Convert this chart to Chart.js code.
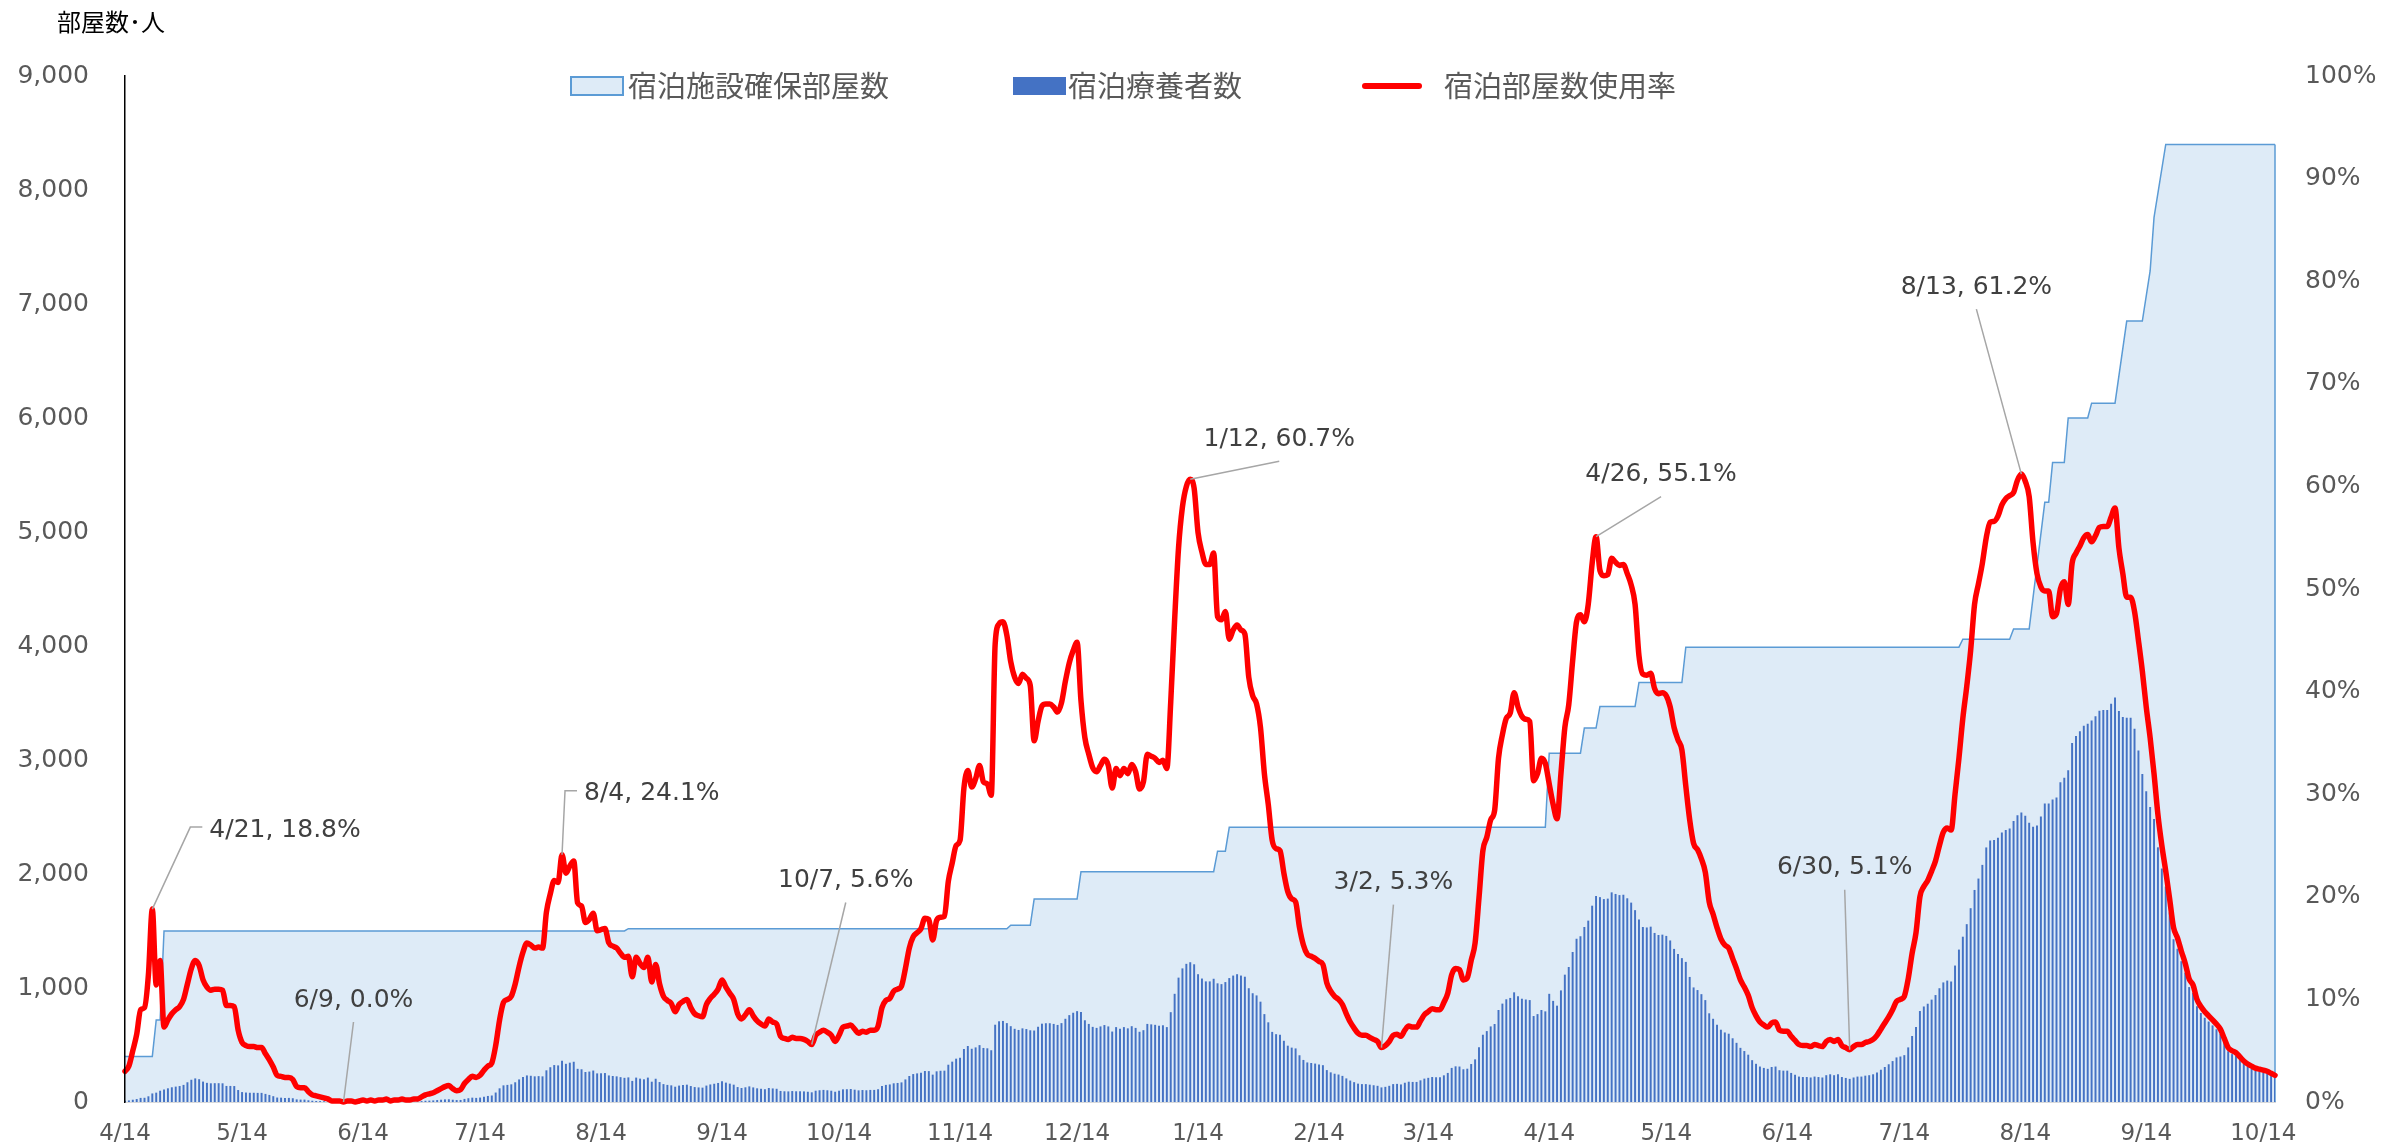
<!DOCTYPE html>
<html lang="ja">
<head>
<meta charset="utf-8">
<title>宿泊療養施設 使用状況</title>
<script src="https://cdn.jsdelivr.net/npm/chart.js@4.4.1/dist/chart.umd.min.js"></script>
<style>
  html, body { margin: 0; padding: 0; background: #fff; }
  #wrap { position: relative; width: 2386px; height: 1145px; }
</style>
</head>
<body>
<div id="wrap"><canvas id="chart"></canvas></div>
<script>
const START_DATE = "2020-04-14";
const DAY_COUNT = 552;

const TICK_DATES = [
  "2020-04-14", "2020-05-14", "2020-06-14", "2020-07-14", "2020-08-14", "2020-09-14",
  "2020-10-14", "2020-11-14", "2020-12-14", "2021-01-14", "2021-02-14", "2021-03-14",
  "2021-04-14", "2021-05-14", "2021-06-14", "2021-07-14", "2021-08-14", "2021-09-14",
  "2021-10-14"
];

// 宿泊施設確保部屋数 (change points only, the line joins them)
const ROOM_DATES = [
  "2020-04-14", "2020-04-21", "2020-04-22", "2020-04-23", "2020-04-24", "2020-08-20",
  "2020-08-21", "2020-11-26", "2020-11-27", "2020-12-02", "2020-12-03", "2020-12-14",
  "2020-12-15", "2021-01-18", "2021-01-19", "2021-01-21", "2021-01-22", "2021-04-13",
  "2021-04-14", "2021-04-22", "2021-04-23", "2021-04-26", "2021-04-27", "2021-05-06",
  "2021-05-07", "2021-05-18", "2021-05-19", "2021-07-28", "2021-07-29", "2021-08-10",
  "2021-08-11", "2021-08-15", "2021-08-19", "2021-08-20", "2021-08-21", "2021-08-24",
  "2021-08-25", "2021-08-30", "2021-08-31", "2021-09-06", "2021-09-09", "2021-09-13",
  "2021-09-15", "2021-09-16", "2021-09-19", "2021-10-17"
];
const ROOMS = [
  400, 400, 720, 720, 1500, 1500, 1520, 1520, 1550, 1550,
  1780, 1780, 2020, 2020, 2200, 2200, 2410, 2410, 3060, 3060,
  3280, 3280, 3470, 3470, 3680, 3680, 3990, 3990, 4060, 4060,
  4150, 4150, 5260, 5260, 5610, 5610, 6000, 6000, 6130, 6130,
  6850, 6850, 7290, 7760, 8400, 8400
];

// 宿泊療養者数, daily from 2020-04-14
const PATIENTS = [
  12, 14, 20, 26, 36, 37, 50, 75, 82, 99,
  110, 120, 129, 135, 140, 150, 173, 195, 207, 200,
  179, 168, 164, 165, 165, 164, 141, 141, 140, 105,
  87, 83, 81, 81, 80, 80, 71, 62, 51, 39,
  38, 36, 36, 33, 23, 21, 21, 15, 11, 9,
  8, 6, 5, 2, 2, 2, 0, 2, 2, 0,
  2, 3, 2, 3, 2, 3, 3, 5, 2, 3,
  3, 5, 3, 3, 5, 5, 8, 11, 12, 14,
  17, 20, 23, 24, 20, 17, 18, 27, 33, 38,
  36, 39, 47, 53, 57, 83, 120, 146, 150, 155,
  173, 198, 219, 233, 230, 225, 227, 225, 278, 305,
  324, 321, 362, 335, 345, 353, 291, 287, 263, 267,
  276, 251, 252, 254, 233, 228, 225, 218, 212, 216,
  185, 214, 205, 199, 214, 178, 204, 175, 157, 150,
  146, 134, 144, 149, 152, 140, 131, 128, 126, 144,
  154, 160, 167, 181, 170, 161, 152, 131, 123, 129,
  137, 128, 120, 116, 112, 123, 119, 116, 97, 94,
  93, 96, 94, 94, 93, 90, 85, 99, 103, 106,
  103, 99, 90, 99, 111, 112, 114, 108, 102, 105,
  103, 106, 106, 112, 140, 150, 154, 164, 167, 172,
  198, 228, 245, 251, 257, 272, 271, 240, 269, 274,
  275, 327, 354, 380, 388, 465, 491, 467, 479, 499,
  474, 471, 454, 678, 708, 711, 692, 665, 642, 632,
  646, 640, 629, 627, 660, 687, 691, 691, 685, 676,
  692, 730, 762, 783, 797, 790, 717, 685, 659, 650,
  663, 675, 663, 618, 657, 642, 657, 646, 665, 650,
  616, 630, 685, 681, 677, 669, 673, 657, 788, 949,
  1091, 1172, 1212, 1226, 1208, 1121, 1083, 1058, 1058, 1081,
  1041, 1034, 1052, 1087, 1109, 1121, 1109, 1099, 998, 954,
  935, 880, 771, 699, 615, 595, 590, 537, 494, 477,
  470, 410, 369, 347, 342, 337, 330, 323, 280, 260,
  248, 241, 229, 207, 188, 174, 161, 157, 157, 152,
  147, 142, 128, 133, 142, 157, 159, 154, 169, 178,
  176, 176, 190, 205, 212, 219, 217, 217, 234, 255,
  299, 313, 311, 287, 292, 333, 374, 480, 590, 622,
  663, 684, 807, 863, 901, 913, 962, 928, 906, 899,
  894, 754, 771, 807, 795, 949, 887, 845, 979, 1117,
  1184, 1316, 1432, 1454, 1535, 1591, 1722, 1807, 1797, 1780,
  1784, 1839, 1825, 1815, 1818, 1787, 1749, 1683, 1601, 1535,
  1531, 1538, 1483, 1465, 1468, 1457, 1417, 1343, 1299, 1262,
  1229, 1097, 1005, 982, 946, 894, 778, 730, 678, 634,
  610, 599, 559, 519, 475, 447, 415, 367, 335, 311,
  299, 291, 307, 311, 279, 275, 275, 255, 239, 223,
  219, 219, 215, 223, 219, 215, 235, 243, 235, 243,
  219, 211, 203, 215, 223, 223, 231, 235, 243, 259,
  283, 307, 331, 359, 391, 399, 411, 479, 579, 658,
  798, 838, 862, 898, 938, 998, 1049, 1065, 1057, 1197,
  1337, 1450, 1560, 1700, 1860, 1960, 2080, 2233, 2294, 2298,
  2318, 2363, 2387, 2399, 2465, 2515, 2540, 2511, 2449, 2414,
  2426, 2505, 2619, 2619, 2654, 2670, 2805, 2844, 2910, 3150,
  3210, 3252, 3300, 3318, 3347, 3384, 3433, 3439, 3439, 3494,
  3549, 3429, 3378, 3370, 3370, 3274, 3083, 2877, 2726, 2588,
  2483, 2234, 2048, 1890, 1663, 1428, 1344, 1235, 1134, 1008,
  958, 840, 781, 739, 706, 672, 638, 596, 521, 445,
  420, 403, 370, 336, 311, 294, 277, 269, 260, 252,
  235, 218
];

// 宿泊部屋数使用率 (%), daily from 2020-04-14
const USAGE_RATE = [
  3.0, 3.5, 5.0, 6.6, 9.0, 9.2, 12.4, 18.8, 11.4, 13.8,
  7.3, 8.0, 8.6, 9.0, 9.3, 10.0, 11.5, 13.0, 13.8, 13.3,
  11.9, 11.2, 10.9, 11.0, 11.0, 10.9, 9.4, 9.4, 9.3, 7.0,
  5.8, 5.5, 5.4, 5.4, 5.3, 5.3, 4.7, 4.1, 3.4, 2.6,
  2.5, 2.4, 2.4, 2.2, 1.5, 1.4, 1.4, 1.0, 0.7, 0.6,
  0.5, 0.4, 0.3, 0.1, 0.1, 0.1, 0.0, 0.1, 0.1, 0.0,
  0.1, 0.2, 0.1, 0.2, 0.1, 0.2, 0.2, 0.3, 0.1, 0.2,
  0.2, 0.3, 0.2, 0.2, 0.3, 0.3, 0.5, 0.7, 0.8, 0.9,
  1.1, 1.3, 1.5, 1.6, 1.3, 1.1, 1.2, 1.8, 2.2, 2.5,
  2.4, 2.6, 3.1, 3.5, 3.8, 5.5, 8.0, 9.7, 10.0, 10.3,
  11.5, 13.2, 14.6, 15.5, 15.3, 15.0, 15.1, 15.0, 18.5, 20.3,
  21.6, 21.4, 24.1, 22.3, 23.0, 23.5, 19.4, 19.1, 17.5, 17.8,
  18.4, 16.7, 16.8, 16.9, 15.5, 15.2, 15.0, 14.5, 14.1, 14.2,
  12.2, 14.1, 13.5, 13.1, 14.1, 11.7, 13.4, 11.5, 10.3, 9.9,
  9.6, 8.8, 9.5, 9.8, 10.0, 9.2, 8.6, 8.4, 8.3, 9.5,
  10.1, 10.5, 11.0, 11.9, 11.2, 10.6, 10.0, 8.6, 8.1, 8.5,
  9.0, 8.4, 7.9, 7.6, 7.4, 8.1, 7.8, 7.6, 6.4, 6.2,
  6.1, 6.3, 6.2, 6.2, 6.1, 5.9, 5.6, 6.5, 6.8, 7.0,
  6.8, 6.5, 5.9, 6.5, 7.3, 7.4, 7.5, 7.1, 6.7, 6.9,
  6.8, 7.0, 7.0, 7.4, 9.2, 9.9, 10.1, 10.8, 11.0, 11.3,
  13.0, 15.0, 16.1, 16.5, 16.9, 17.9, 17.8, 15.8, 17.7, 18.0,
  18.1, 21.5, 23.3, 25.0, 25.5, 30.6, 32.3, 30.7, 31.5, 32.8,
  31.2, 31.0, 29.9, 44.6, 46.6, 46.8, 45.5, 42.9, 41.4, 40.8,
  41.7, 41.3, 40.6, 35.2, 37.1, 38.6, 38.8, 38.8, 38.5, 38.0,
  38.9, 41.0, 42.8, 44.0, 44.8, 39.1, 35.5, 33.9, 32.6, 32.2,
  32.8, 33.4, 32.8, 30.6, 32.5, 31.8, 32.5, 32.0, 32.9, 32.2,
  30.5, 31.2, 33.9, 33.7, 33.5, 33.1, 33.3, 32.5, 39.0, 47.0,
  54.0, 58.0, 60.0, 60.7, 59.8, 55.5, 53.6, 52.4, 52.4, 53.5,
  47.3, 47.0, 47.8, 45.1, 46.0, 46.5, 46.0, 45.6, 41.4, 39.6,
  38.8, 36.5, 32.0, 29.0, 25.5, 24.7, 24.5, 22.3, 20.5, 19.8,
  19.5, 17.0, 15.3, 14.4, 14.2, 14.0, 13.7, 13.4, 11.6, 10.8,
  10.3, 10.0, 9.5, 8.6, 7.8, 7.2, 6.7, 6.5, 6.5, 6.3,
  6.1, 5.9, 5.3, 5.5, 5.9, 6.5, 6.6, 6.4, 7.0, 7.4,
  7.3, 7.3, 7.9, 8.5, 8.8, 9.1, 9.0, 9.0, 9.7, 10.6,
  12.4, 13.0, 12.9, 11.9, 12.1, 13.8, 15.5, 19.9, 24.5, 25.8,
  27.5, 28.4, 33.5, 35.8, 37.4, 37.9, 39.9, 38.5, 37.6, 37.3,
  37.1, 31.3, 32.0, 33.5, 33.0, 31.0, 29.0, 27.6, 32.0, 36.5,
  38.7, 43.0, 46.8, 47.5, 46.8, 48.5, 52.5, 55.1, 51.8, 51.3,
  51.4, 53.0, 52.6, 52.3, 52.4, 51.5, 50.4, 48.5, 43.5, 41.7,
  41.6, 41.8, 40.3, 39.8, 39.9, 39.6, 38.5, 36.5, 35.3, 34.3,
  30.8, 27.5, 25.2, 24.6, 23.7, 22.4, 19.5, 18.3, 17.0, 15.9,
  15.3, 15.0, 14.0, 13.0, 11.9, 11.2, 10.4, 9.2, 8.4, 7.8,
  7.5, 7.3, 7.7, 7.8, 7.0, 6.9, 6.9, 6.4, 6.0, 5.6,
  5.5, 5.5, 5.4, 5.6, 5.5, 5.4, 5.9, 6.1, 5.9, 6.1,
  5.5, 5.3, 5.1, 5.4, 5.6, 5.6, 5.8, 5.9, 6.1, 6.5,
  7.1, 7.7, 8.3, 9.0, 9.8, 10.0, 10.3, 12.0, 14.5, 16.5,
  20.0, 21.0, 21.6, 22.5, 23.5, 25.0, 26.3, 26.7, 26.5, 30.0,
  33.5, 37.4, 40.5, 44.0, 48.5, 50.5, 52.5, 55.0, 56.5, 56.6,
  57.1, 58.2, 58.8, 59.1, 59.4, 60.6, 61.2, 60.5, 59.0, 54.5,
  51.5, 50.2, 49.8, 49.8, 47.3, 47.6, 50.0, 50.7, 48.5, 52.5,
  53.5, 54.2, 55.0, 55.3, 54.6, 55.2, 56.0, 56.1, 56.1, 57.0,
  57.9, 54.0, 51.5, 49.2, 49.2, 47.8, 45.0, 42.0, 38.5, 35.5,
  32.0, 28.0, 25.0, 22.5, 19.8, 17.0, 16.0, 14.7, 13.5, 12.0,
  11.4, 10.0, 9.3, 8.8, 8.4, 8.0, 7.6, 7.1, 6.2, 5.3,
  5.0, 4.8, 4.4, 4.0, 3.7, 3.5, 3.3, 3.2, 3.1, 3.0,
  2.8, 2.6
];

const CALLOUT_DATES = [
  "2020-04-21", "2020-06-09", "2020-08-04", "2020-10-07", "2021-01-12",
  "2021-03-02", "2021-04-26", "2021-06-30", "2021-08-13"
];
// leader end offset from the point, px; "side" = elbow with label to the right
const CALLOUT_OFFSETS = [
  { dx: 38, dy: -82, side: true },
  { dx: 10, dy: -80 },
  { dx: 3, dy: -64, side: true },
  { dx: 34, dy: -142 },
  { dx: 89, dy: -18 },
  { dx: 12, dy: -143 },
  { dx: 65, dy: -40 },
  { dx: -5, dy: -160 },
  { dx: -45, dy: -165 }
];

const BLUE_LINE = "#5B9BD5";
const BLUE_FILL = "#DEEBF7";
const BAR_BLUE = "#4472C4";
const RED = "#FF0000";
const NUM_FONT = "DejaVu Sans";
const JP_FONT = "'Noto Sans CJK JP', 'Noto Sans', sans-serif";

function dayLabel(i) {
  const d = new Date(START_DATE + "T00:00:00Z");
  d.setUTCDate(d.getUTCDate() + i);
  return d.toISOString().slice(0, 10);
}
const DATES = Array.from({ length: DAY_COUNT }, (_, i) => dayLabel(i));
const TICK_SET = new Set(TICK_DATES);

function md(iso) {
  const parts = iso.split("-");
  return Number(parts[1]) + "/" + Number(parts[2]);
}

// fixed side boxes; drop the label overhang padding so the plot bottom stays put
function fixWidth(w) {
  return scale => {
    scale.width = w;
    scale.paddingTop = 0;
    scale.paddingBottom = 0;
  };
}

const overlay = {
  id: "overlay",
  afterDatasetDraw(chart, args) {
    // right edge of the capacity area
    if (args.index !== 2) return;
    const pts = args.meta.data;
    const last = pts[pts.length - 1];
    const { ctx } = chart;
    ctx.save();
    ctx.strokeStyle = BLUE_LINE;
    ctx.lineWidth = 1.5;
    ctx.beginPath();
    ctx.moveTo(last.x, last.y);
    ctx.lineTo(last.x, chart.scales.y.getPixelForValue(0));
    ctx.stroke();
    ctx.restore();
  },
  afterDraw(chart) {
    const { ctx } = chart;
    const xs = chart.scales.x;
    const ys = chart.scales.y1;
    ctx.save();

    // axis title
    ctx.fillStyle = "#000";
    ctx.font = "24px " + JP_FONT;
    ctx.textAlign = "left";
    ctx.textBaseline = "middle";
    ctx.fillText("部屋数･人", 57, 22);

    // legend
    const ds = chart.data.datasets;
    const ly = 86;
    ctx.font = "29px " + JP_FONT;

    let x = 571;
    ctx.fillStyle = BLUE_FILL;
    ctx.fillRect(x, ly - 9, 52, 18);
    ctx.strokeStyle = BLUE_LINE;
    ctx.lineWidth = 2;
    ctx.strokeRect(x, ly - 9, 52, 18);
    ctx.fillStyle = "#595959";
    ctx.fillText(ds[2].label, x + 57, ly);

    x = 1013;
    ctx.fillStyle = BAR_BLUE;
    ctx.fillRect(x, ly - 9, 53, 18);
    ctx.fillStyle = "#595959";
    ctx.fillText(ds[1].label, x + 55, ly);

    x = 1365;
    ctx.strokeStyle = RED;
    ctx.lineWidth = 6;
    ctx.lineCap = "round";
    ctx.beginPath();
    ctx.moveTo(x, ly);
    ctx.lineTo(x + 54, ly);
    ctx.stroke();
    ctx.fillText(ds[0].label, x + 79, ly);

    // callouts
    ctx.font = "25px " + NUM_FONT;
    ctx.fillStyle = "#404040";
    ctx.strokeStyle = "#A6A6A6";
    ctx.lineWidth = 1.5;
    ctx.lineCap = "butt";
    CALLOUT_DATES.forEach((iso, k) => {
      const i = DATES.indexOf(iso);
      const v = USAGE_RATE[i];
      const ax = xs.getPixelForValue(i);
      const ay = ys.getPixelForValue(v);
      const o = CALLOUT_OFFSETS[k];
      const ex = ax + o.dx;
      const ey = ay + o.dy;
      const text = md(iso) + ", " + v.toFixed(1) + "%";
      ctx.beginPath();
      ctx.moveTo(ax, ay);
      ctx.lineTo(ex, ey);
      if (o.side) {
        ctx.lineTo(ex + 12, ey);
        ctx.stroke();
        ctx.textAlign = "left";
        ctx.fillText(text, ex + 19, ey + 3);
      } else {
        ctx.stroke();
        ctx.textAlign = "center";
        ctx.fillText(text, ex, ey - 22);
      }
    });
    ctx.restore();
  }
};

new Chart(document.getElementById("chart"), {
  type: "bar",
  data: {
    labels: DATES,
    datasets: [
      {
        type: "line",
        label: "宿泊部屋数使用率",
        data: USAGE_RATE,
        yAxisID: "y1",
        borderColor: RED,
        borderWidth: 5.5,
        pointRadius: 0,
        cubicInterpolationMode: "monotone",
        borderJoinStyle: "round",
        borderCapStyle: "round",
        clip: false,
        order: 0
      },
      {
        type: "bar",
        label: "宿泊療養者数",
        data: PATIENTS,
        yAxisID: "y",
        backgroundColor: BAR_BLUE,
        barPercentage: 0.5,
        categoryPercentage: 1,
        order: 1
      },
      {
        type: "line",
        label: "宿泊施設確保部屋数",
        data: ROOM_DATES.map((d, i) => ({ x: d, y: ROOMS[i] })),
        yAxisID: "y",
        borderColor: BLUE_LINE,
        borderWidth: 1.5,
        backgroundColor: BLUE_FILL,
        fill: "origin",
        pointRadius: 0,
        tension: 0,
        order: 2
      }
    ]
  },
  options: {
    responsive: true,
    maintainAspectRatio: false,
    animation: false,
    devicePixelRatio: 1,
    layout: { padding: { top: 76, left: 0, right: 0, bottom: 0 } },
    plugins: { legend: { display: false }, tooltip: { enabled: false } },
    scales: {
      x: {
        type: "category",
        offset: false,
        grid: { display: false, drawTicks: false },
        border: { display: true, color: "#D9D9D9", width: 2 },
        ticks: {
          autoSkip: false,
          maxRotation: 0,
          minRotation: 0,
          padding: 18,
          color: "#595959",
          font: { family: NUM_FONT, size: 23 },
          callback(value) { return md(this.getLabelForValue(value)); }
        },
        afterBuildTicks(scale) {
          scale.ticks = scale.ticks.filter(t => TICK_SET.has(DATES[t.value]));
        },
        afterFit(scale) { scale.height = 43; }
      },
      y: {
        position: "left",
        min: 0,
        max: 9000,
        grid: { display: false, drawTicks: false },
        border: { display: true, color: "#000", width: 1.5, z: 1 },
        ticks: {
          stepSize: 1000,
          padding: 36,
          color: "#595959",
          font: { family: NUM_FONT, size: 25 },
          callback: v => v.toLocaleString("en-US")
        },
        afterFit: fixWidth(125)
      },
      y1: {
        position: "right",
        min: 0,
        max: 100,
        grid: { display: false, drawTicks: false },
        border: { display: false },
        ticks: {
          stepSize: 10,
          padding: 30,
          color: "#595959",
          font: { family: NUM_FONT, size: 25 },
          callback: v => v + "%"
        },
        afterFit: fixWidth(111)
      }
    }
  },
  plugins: [overlay]
});
</script>
</body>
</html>
